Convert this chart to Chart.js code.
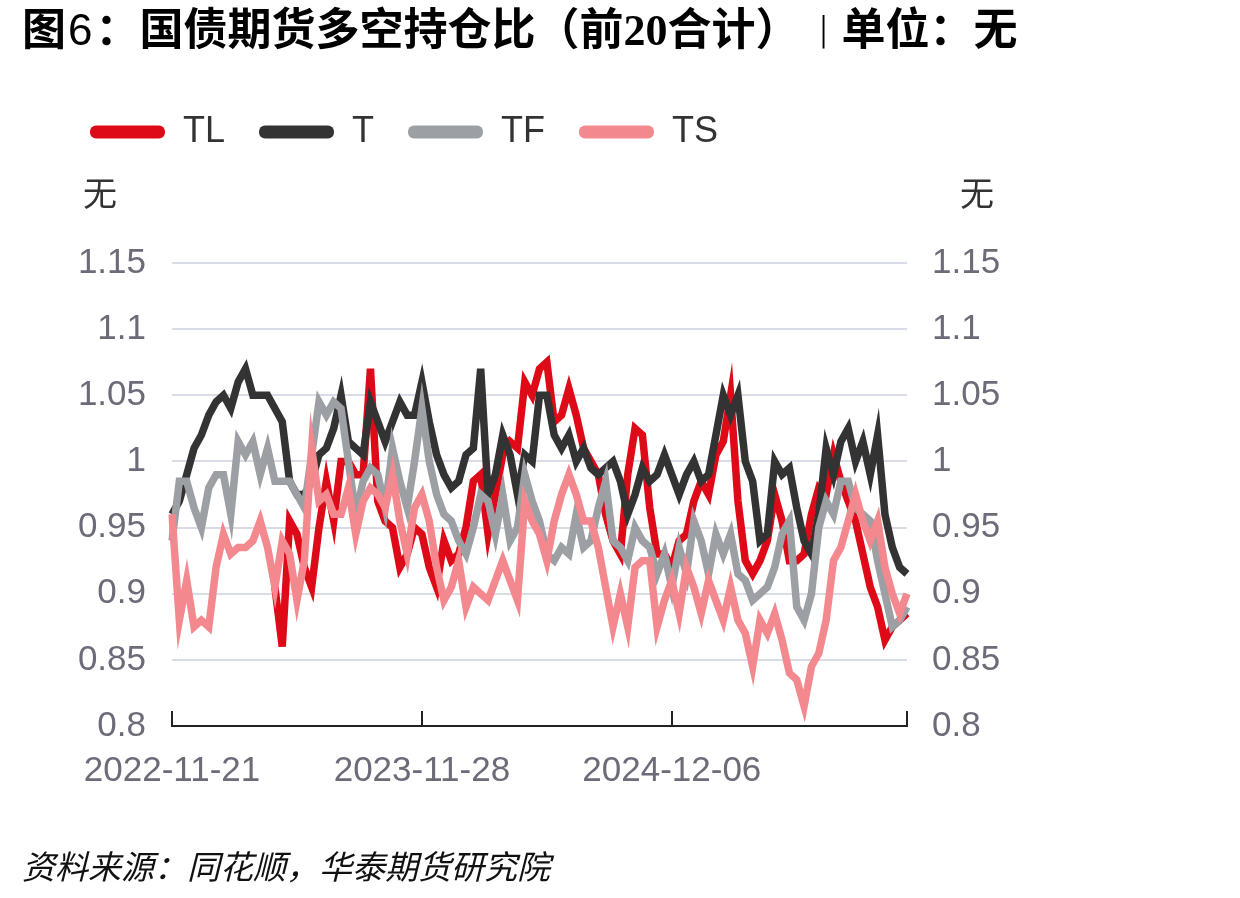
<!DOCTYPE html>
<html>
<head>
<meta charset="utf-8">
<script src="https://cdn.jsdelivr.net/npm/chart.js@4"></script>
<style>
  body { margin: 0; background: #fff; }
  #wrap { position: relative; width: 1240px; height: 898px; }
  #title { position: absolute; left: 22px; top: -6px; font: bold 44px "Noto Sans CJK SC"; color: #000; white-space: nowrap; }
  #title .n6 { font: 44px "Liberation Sans"; margin: 0 3px 0 2px; }
  #title .n20 { font: bold 44px "Liberation Serif"; }
  #title .bar { font-weight: normal; font-size: 30px; vertical-align: 5px; margin: 0 14px 0 20px; }
  #source { position: absolute; left: 22px; top: 841px; font: italic 33px "Noto Sans CJK SC"; color: #111; white-space: nowrap; }
  canvas { position: absolute; left: 0; top: 0; }
</style>
</head>
<body>
<div id="wrap">
  <canvas id="chart" width="1240" height="898"></canvas>
  <div id="title">图<span class="n6">6</span>：国债期货多空持仓比（前<span class="n20">20</span>合计）<span class="bar">|</span>单位：无</div>
  <div id="source">资料来源：同花顺，华泰期货研究院</div>
</div>
<script>
// 数据（约每7个交易日取一点）
const tickLabels = ['2022-11-21', '2023-11-28', '2024-12-06'];
const tickIndex = [0, 34, 68, 100];

const TL = [
  null, null, null, null, null, null, null, null, null, null, null, null, null, null,
  0.905, 0.86, 0.955, 0.945, 0.92, 0.905, 0.95, 0.985, 0.955, 1.0,
  1.0, 0.99, 0.99, 1.07, 0.97, 0.955, 0.95, 0.92, 0.93, 0.95,
  0.945, 0.92, 0.905, 0.94, 0.925, 0.93, 0.95, 0.985, 0.99, 0.945,
  0.975, 1.005, 1.015, 1.01, 1.06, 1.05, 1.07, 1.075, 1.03, 1.035,
  1.055, 1.035, 1.01, 1.0, 0.99, 0.96, 0.94, 0.93, 0.99, 1.025,
  1.02, 0.965, 0.93, 0.93, 0.92, 0.94, 0.945, 0.97, 0.985, 0.975,
  1.005, 1.015, 1.05, 0.97, 0.925, 0.915, 0.925, 0.94, 0.975, 0.955,
  0.925, 0.925, 0.93, 0.96, 0.98, 0.975, 1.005, 0.985, 0.97, 0.955,
  0.93, 0.905, 0.89, 0.865, 0.875, 0.88, 0.885
];
const T = [
  0.96, 0.97, 0.99, 1.01, 1.02, 1.035, 1.045, 1.05, 1.04, 1.06,
  1.07, 1.05, 1.05, 1.05, 1.04, 1.03, 0.985, 0.975, 0.975, 0.985,
  1.005, 1.01, 1.025, 1.05, 1.015, 1.01, 1.005, 1.045, 1.03, 1.015,
  1.03, 1.045, 1.035, 1.035, 1.06, 1.03, 1.005, 0.99, 0.98, 0.985,
  1.005, 1.01, 1.07, 0.975, 0.99, 1.02, 1.005, 0.975, 1.005, 1.0,
  1.05, 1.05, 1.02, 1.01, 1.02, 1.0, 1.01, 0.995, 0.99, 0.995,
  1.0, 0.985, 0.96, 0.975, 0.995, 0.985, 0.99, 1.005, 0.99, 0.975,
  0.99, 1.0, 0.985, 0.99, 1.02, 1.05, 1.035, 1.05, 1.0, 0.985,
  0.94, 0.945, 1.0, 0.99, 0.995, 0.965, 0.94, 0.93, 0.96, 1.01,
  0.99, 1.015, 1.025, 1.0, 1.015, 0.99, 1.02, 0.96, 0.935, 0.92, 0.915
];
const TF = [
  0.94, 0.985, 0.985, 0.965, 0.95, 0.98, 0.99, 0.99, 0.96, 1.015,
  1.005, 1.015, 0.99, 1.01, 0.985, 0.985, 0.985, 0.975, 0.965, 1.005,
  1.045, 1.035, 1.045, 1.04, 1.0, 0.96, 0.985, 0.995, 0.99, 0.965,
  1.01, 0.985, 0.965, 1.0, 1.04, 1.0, 0.975, 0.96, 0.955, 0.94,
  0.93, 0.95, 0.975, 0.97, 0.945, 0.975, 0.94, 0.95, 0.99, 0.97,
  0.955, 0.93, 0.925, 0.935, 0.93, 0.96, 0.935, 0.94, 0.965, 0.985,
  0.94, 0.935, 0.925, 0.95, 0.94, 0.935, 0.915, 0.93, 0.905, 0.935,
  0.915, 0.955, 0.94, 0.915, 0.945, 0.93, 0.945, 0.915, 0.91, 0.895,
  0.9, 0.905, 0.92, 0.945, 0.955, 0.89, 0.88, 0.9, 0.95, 0.97,
  0.96, 0.985, 0.985, 0.965, 0.96, 0.955, 0.925, 0.9, 0.875, 0.88, 0.89
];
const TS = [
  0.96, 0.88, 0.91, 0.875, 0.88, 0.875, 0.92, 0.945, 0.93, 0.935,
  0.935, 0.94, 0.955, 0.935, 0.905, 0.94, 0.93, 0.895, 0.925, 1.01,
  0.97, 0.975, 0.96, 0.96, 0.98, 0.945, 0.97, 0.98, 0.975, 0.965,
  0.99, 0.955, 0.93, 0.965, 0.975, 0.955, 0.92, 0.895, 0.905, 0.925,
  0.89, 0.905, 0.9, 0.895, 0.91, 0.925, 0.91, 0.895, 0.97, 0.955,
  0.945, 0.925, 0.955, 0.975, 0.99, 0.975, 0.955, 0.955, 0.935, 0.905,
  0.875, 0.9, 0.875, 0.92, 0.925, 0.925, 0.875, 0.895, 0.91, 0.885,
  0.92, 0.905, 0.885, 0.91, 0.895, 0.88, 0.905, 0.88, 0.87, 0.845,
  0.88, 0.87, 0.885, 0.865, 0.84, 0.835, 0.815, 0.845, 0.855, 0.88,
  0.925, 0.935, 0.955, 0.975, 0.955, 0.94, 0.955, 0.92, 0.9, 0.885, 0.9
];
const labels = T.map((_, i) => i);

const colTL = '#de0a17', colT = '#333333', colTF = '#9c9fa3', colTS = '#f3898e';
const tickColor = '#6b6c78';
const gridColor = '#d8dce6';

// 上方“无”单位
const unitPlugin = {
  id: 'unit',
  afterDraw(chart) {
    const { ctx, chartArea } = chart;
    ctx.save();
    ctx.font = '34px "Noto Sans CJK SC"';
    ctx.fillStyle = '#333';
    ctx.textAlign = 'center';
    ctx.textBaseline = 'middle';
    ctx.fillText('无', chartArea.left - 72, chartArea.top - 70);
    ctx.fillText('无', chartArea.right + 70, chartArea.top - 70);
    ctx.restore();
  }
};

// x轴朝上的刻度线
const tickMarks = {
  id: 'tickMarks',
  afterDraw(chart) {
    const x = chart.scales.x;
    const ctx = chart.ctx;
    ctx.save();
    ctx.strokeStyle = '#222';
    ctx.lineWidth = 2;
    x.ticks.forEach((t, i) => {
      const px = Math.round(x.getPixelForTick(i));
      ctx.beginPath();
      ctx.moveTo(px, x.top);
      ctx.lineTo(px, x.top - 15);
      ctx.stroke();
    });
    ctx.restore();
  }
};

// 图例下方留白
const legendSpace = {
  id: 'legendSpace',
  beforeInit(chart) {
    const fit = chart.legend.fit;
    chart.legend.fit = function () {
      fit.bind(chart.legend)();
      this.height += 103;
    };
  }
};

const line = (label, data, color, order) => ({
  label, data, order,
  borderColor: color,
  backgroundColor: color,
  borderWidth: 7.5,
  pointRadius: 0,
  tension: 0,
  spanGaps: false
});

new Chart(document.getElementById('chart'), {
  type: 'line',
  data: {
    labels: labels,
    datasets: [
      line('TL', TL, colTL, 4),
      line('T', T, colT, 3),
      line('TF', TF, colTF, 2),
      line('TS', TS, colTS, 1)
    ]
  },
  plugins: [legendSpace, unitPlugin, tickMarks],
  options: {
    responsive: false,
    animation: false,
    layout: { padding: { top: 80, bottom: 82, left: 56, right: 0 } },
    plugins: {
      tooltip: { enabled: false },
      legend: {
        align: 'start',
        labels: {
          boxWidth: 75,
          boxHeight: 13,
          useBorderRadius: true,
          borderRadius: 6,
          padding: 34,
          color: '#333',
          font: { family: 'Liberation Sans', size: 36 },
          sort: (a, b) => a.datasetIndex - b.datasetIndex,
          generateLabels: chart => Chart.defaults.plugins.legend.labels.generateLabels(chart)
            .map(l => ({ ...l, lineWidth: 0, fillStyle: l.strokeStyle }))
        }
      }
    },
    scales: {
      x: {
        type: 'category',
        offset: false,
        grid: { display: false, drawTicks: false },
        border: { display: true, color: '#222', width: 2 },
        afterBuildTicks: s => { s.ticks = tickIndex.map(v => ({ value: v })); },
        ticks: {
          autoSkip: false,
          maxRotation: 0,
          padding: 24,
          color: tickColor,
          font: { family: 'Liberation Sans', size: 35 },
          callback: (v, i) => tickLabels[i] || ''
        }
      },
      y: {
        position: 'left',
        min: 0.8,
        max: 1.15,
        afterFit: s => { s.width = 116; },
        grid: {
          drawTicks: false,
          lineWidth: 2,
          color: c => (Math.abs(c.tick.value - 0.8) < 1e-6 ? 'rgba(0,0,0,0)' : gridColor)
        },
        border: { display: false },
        ticks: {
          stepSize: 0.05,
          padding: 26,
          color: tickColor,
          font: { family: 'Liberation Sans', size: 35 },
          callback: v => String(+v.toFixed(2))
        }
      },
      y2: {
        position: 'right',
        min: 0.8,
        max: 1.15,
        afterFit: s => { s.width = 333; },
        grid: { drawOnChartArea: false, drawTicks: false },
        border: { display: false },
        ticks: {
          stepSize: 0.05,
          padding: 25,
          color: tickColor,
          font: { family: 'Liberation Sans', size: 35 },
          callback: v => String(+v.toFixed(2))
        }
      }
    }
  }
});
</script>
</body>
</html>
